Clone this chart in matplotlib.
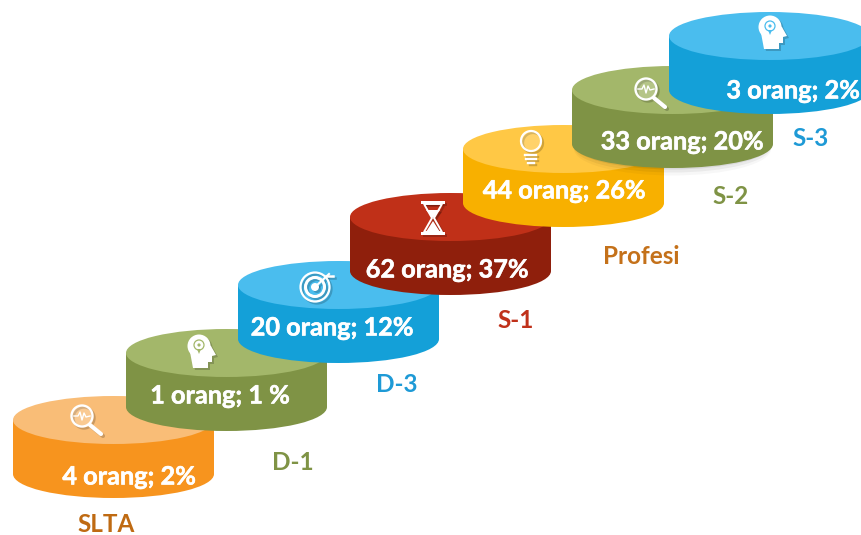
import matplotlib
matplotlib.use('Agg')
import matplotlib.pyplot as plt
from matplotlib.patches import Ellipse, Rectangle, Circle, Polygon
import matplotlib.patheffects as pe

plt.rcParams['font.family'] = ['Lato', 'DejaVu Sans']

categories = ['SLTA', 'D-1', 'D-3', 'S-1', 'Profesi', 'S-2', 'S-3']
counts = [4, 1, 20, 62, 44, 33, 3]
percents = ['2%', '1 %', '12%', '37%', '26%', '20%', '2%']
icons = ['search', 'head', 'target', 'hourglass', 'bulb', 'search', 'head']

top_colors = ['#F9BD77', '#A3B76A', '#4ABDEE', '#C03018', '#FFC845', '#A3B76A', '#4ABDEE']
side_colors = ['#F7941E', '#7F9345', '#14A0D8', '#8F1F0C', '#F8B000', '#7F9345', '#14A0D8']
cat_colors = ['#BF6A12', '#7F9345', '#1E9AD6', '#C0311A', '#C4711A', '#7F9345', '#1E9AD6']

# layout in pixels of the picture
disc_left = [13, 126, 238, 350, 463, 572, 669]
disc_top = [396, 329, 261, 193, 125, 66, 12]
disc_w = 201
top_h = 48
side_h = 54
icon_pos = [(86, 420), (200, 352), (316, 287), (433, 218), (531, 148), (650, 93), (771, 33)]
label_pos = [(129, 477), (220, 396), (332, 328), (447, 270), (564, 191), (682, 142), (793, 91)]
cat_pos = [(106, 524), (293, 462), (397, 385), (516, 321), (641, 257), (731, 197), (811, 138)]


def draw_icon(ax, kind, cx, cy, col, bg, z, shadow=False):
    # icon coordinates are relative to the centre, in pixels
    def pt(x, y):
        return (cx + x, cy + y)
    if kind == 'search':
        ax.add_patch(Circle(pt(-4, -4), 10.5, fc='none', ec=col, lw=1.7, zorder=z))
        if not shadow:
            ax.add_patch(Circle(pt(-4, -4), 9.5, fc='white', alpha=0.2, ec='none', zorder=z))
            xs = [-12, -8, -6, -4, -2, 0, 4]
            ys = [-4, -4, -8, 0, -7, -3, -4]
            ax.plot([cx + x for x in xs], [cy + y for y in ys], color=col, lw=1.0, zorder=z)
        ax.plot([cx + 4, cx + 15], [cy + 5, cy + 14], color=col, lw=3, solid_capstyle='round', zorder=z)
    elif kind == 'head':
        ax.add_patch(Circle(pt(-1, -6), 11.5, fc=col, ec='none', zorder=z))
        ax.add_patch(Polygon([pt(-10, 0), pt(-7, 16), pt(8, 16), pt(8, 10), pt(12, 10), pt(12, 4),
                              pt(16, 3), pt(11, -6), pt(4, -10)], fc=col, ec='none', zorder=z))
        if not shadow:
            ax.add_patch(Circle(pt(-1, -7), 5, fc='none', ec=bg, lw=0.9, zorder=z))
            ax.add_patch(Circle(pt(-1, -7), 1.6, fc=bg, ec='none', zorder=z))
            ax.add_patch(Polygon([pt(-3, -3), pt(1, -3), pt(-1, 2)], fc=bg, ec='none', zorder=z))
    elif kind == 'target':
        ax.add_patch(Circle(pt(-1, 0), 14.5, fc='none', ec=col, lw=1.6, zorder=z))
        ax.add_patch(Circle(pt(-1, 0), 9.5, fc='none', ec=col, lw=2.2, zorder=z))
        ax.add_patch(Circle(pt(-1, 0), 4, fc=col, ec='none', zorder=z))
        ax.plot([cx - 1, cx + 13], [cy, cy - 13], color=col, lw=1.5, zorder=z)
        ax.plot([cx + 10, cx + 17], [cy - 11, cy - 11], color=col, lw=1.8, zorder=z)
    elif kind == 'hourglass':
        ax.add_patch(Rectangle(pt(-12, -17), 24, 3, fc=col, ec='none', zorder=z))
        ax.add_patch(Rectangle(pt(-12, 14), 24, 3, fc=col, ec='none', zorder=z))
        ax.add_patch(Polygon([pt(-9, -14), pt(9, -14), pt(1, 0), pt(9, 14), pt(-9, 14), pt(-1, 0)],
                             fc='none', ec=col, lw=1.4, zorder=z))
        ax.add_patch(Polygon([pt(-7, -8), pt(7, -8), pt(0, 0)], fc=col, ec='none', zorder=z))
        ax.add_patch(Polygon([pt(0, 3), pt(7, 14), pt(-7, 14)], fc=col, ec='none', zorder=z))
    elif kind == 'bulb':
        ax.add_patch(Circle(pt(0, -7), 10, fc='none', ec=col, lw=1.6, zorder=z))
        ax.add_patch(Circle(pt(0, -7), 9, fc='white', alpha=0.2 if not shadow else 0, ec='none', zorder=z))
        for dy, half in [(7, 5.5), (11, 5), (15, 3)]:
            ax.plot([cx - half, cx + half], [cy + dy, cy + dy], color=col, lw=1.7, zorder=z)


fig = plt.figure(figsize=(8.62, 5.35), dpi=100)
ax = fig.add_axes([0, 0, 1, 1])
ax.set_xlim(0, 862)
ax.set_ylim(535, 0)
ax.axis('off')

bold = [pe.withStroke(linewidth=0.4, foreground='white')]

for i, cat in enumerate(categories):
    z = 10 + i * 5
    x0 = disc_left[i]
    y0 = disc_top[i] + top_h / 2
    xc = x0 + disc_w / 2

    # soft shadow, only the S-2 disc shows one over the disc below it
    if cat == 'S-2':
        for grow, a in [(5, 0.03), (3, 0.05), (1, 0.07)]:
            ax.add_patch(Ellipse((xc, y0 + side_h + grow), disc_w - 4, top_h + grow,
                                 fc='black', alpha=a, ec='none', zorder=z))

    ax.add_patch(Rectangle((x0, y0), disc_w, side_h, fc=side_colors[i], ec='none', zorder=z + 1))
    ax.add_patch(Ellipse((xc, y0 + side_h), disc_w, top_h, fc=side_colors[i], ec='none', zorder=z + 1))
    ax.add_patch(Ellipse((xc, y0), disc_w, top_h, fc=top_colors[i], ec='none', zorder=z + 2))

    ix, iy = icon_pos[i]
    draw_icon(ax, icons[i], ix + 2, iy + 2, '#00000030', top_colors[i], z + 2.5, shadow=True)
    draw_icon(ax, icons[i], ix, iy, 'white', top_colors[i], z + 3)

    lx, ly = label_pos[i]
    ax.text(lx, ly, f'{counts[i]} orang; {percents[i]}', color='white', fontsize=18.2, fontweight='bold',
            ha='center', va='center', zorder=z + 4, path_effects=bold)

    cx, cy = cat_pos[i]
    ax.text(cx, cy, cat, color=cat_colors[i], fontsize=17.5, fontweight='bold',
            ha='center', va='center', zorder=2)

fig.savefig('out.png', dpi=100)
